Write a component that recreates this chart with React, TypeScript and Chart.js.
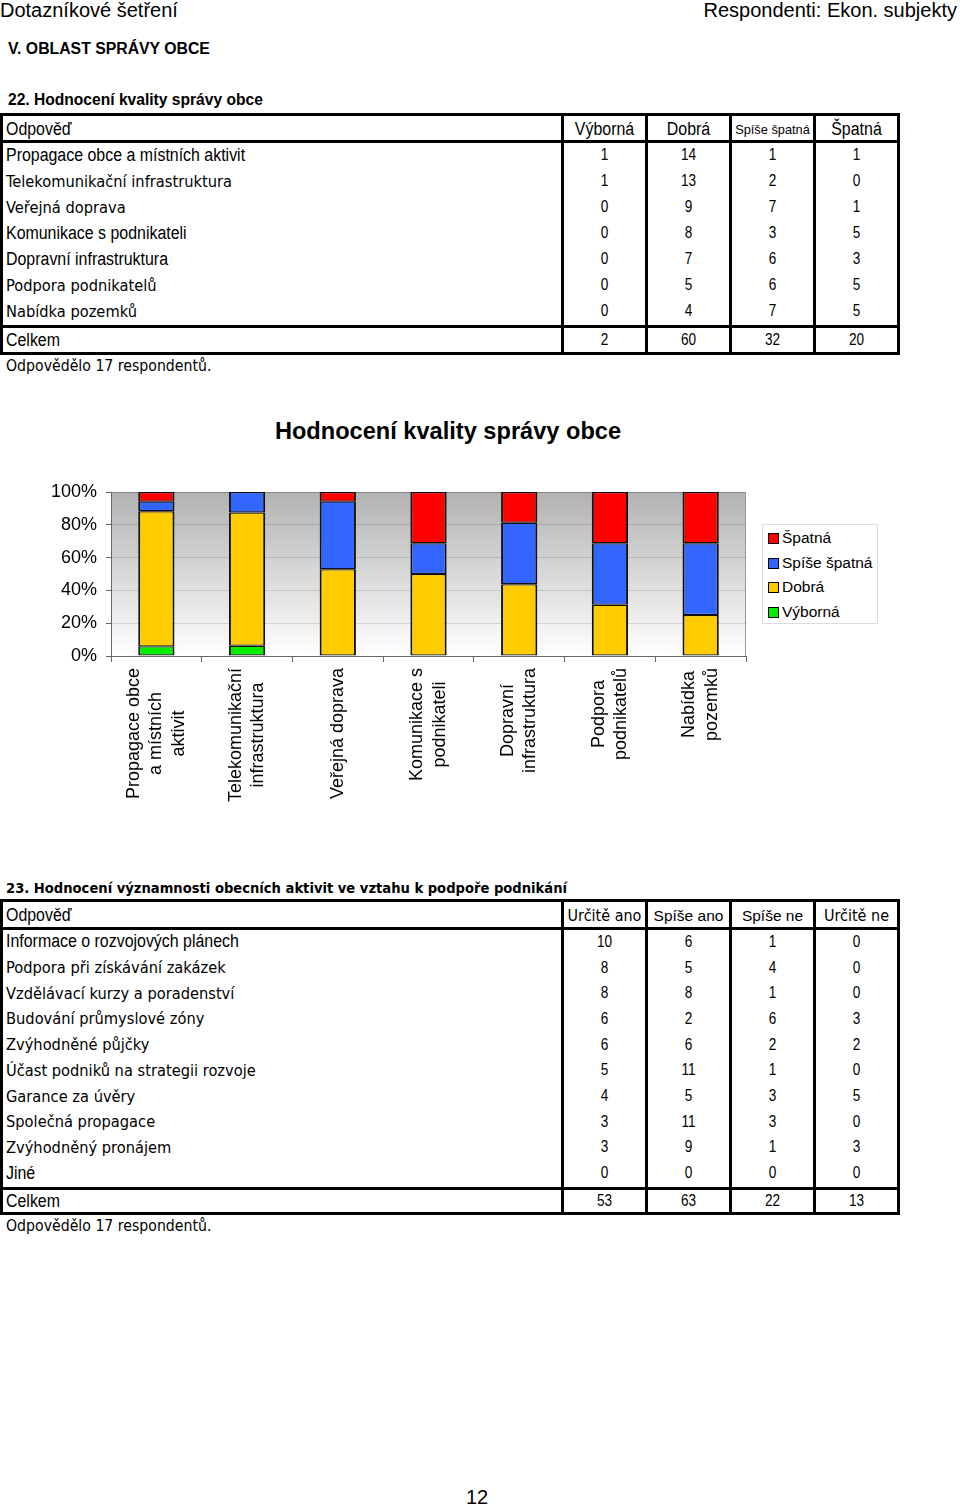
import React, { useEffect, useRef } from 'react';
import { Chart, registerables } from 'chart.js';

Chart.register(...registerables);

// ---------- DATA ----------
const chartTitle = 'Hodnocení kvality správy obce';
const categoryLines = [
  ['Propagace obce', 'a místních', 'aktivit'],
  ['Telekomunikační', 'infrastruktura'],
  ['Veřejná doprava'],
  ['Komunikace s', 'podnikateli'],
  ['Dopravní', 'infrastruktura'],
  ['Podpora', 'podnikatelů'],
  ['Nabídka', 'pozemků'],
];
const table1Rows = [
  'Propagace obce a místních aktivit',
  'Telekomunikační infrastruktura',
  'Veřejná doprava',
  'Komunikace s podnikateli',
  'Dopravní infrastruktura',
  'Podpora podnikatelů',
  'Nabídka pozemků',
];
const table1Heads = ['Výborná', 'Dobrá', 'Spíše špatná', 'Špatná'];
const vyborna = [1, 1, 0, 0, 0, 0, 0];
const dobra = [14, 13, 9, 8, 7, 5, 4];
const spiseSpatna = [1, 2, 7, 3, 6, 6, 7];
const spatna = [1, 0, 1, 5, 3, 5, 5];
const yTickValues = [0, 20, 40, 60, 80, 100];

const table2Rows = [
  'Informace o rozvojových plánech',
  'Podpora při získávání zakázek',
  'Vzdělávací kurzy a poradenství',
  'Budování průmyslové zóny',
  'Zvýhodněné půjčky',
  'Účast podniků na strategii rozvoje',
  'Garance za úvěry',
  'Společná propagace',
  'Zvýhodněný pronájem',
  'Jiné',
];
const table2Heads = ['Určitě ano', 'Spíše ano', 'Spíše ne', 'Určitě ne'];
const urciteAno = [10, 8, 8, 6, 6, 5, 4, 3, 3, 0];
const spiseAno = [6, 5, 8, 2, 6, 11, 5, 11, 9, 0];
const spiseNe = [1, 4, 1, 6, 2, 1, 3, 3, 1, 0];
const urciteNe = [0, 0, 0, 3, 2, 0, 5, 0, 3, 0];

// ---------- STYLE ----------
const ARIAL = '"Liberation Sans", Arial, sans-serif';
const COMIC = '"DejaVu Sans Condensed", "DejaVu Sans", sans-serif';

type FontSpec = { family: string; size: number; sx?: number };
const NARROW_TXT: FontSpec = { family: ARIAL, size: 18, sx: 0.885 };
const NUM: FontSpec = { family: ARIAL, size: 17, sx: 0.8 };
const COMIC_ROW: FontSpec = { family: COMIC, size: 16.3 };

const seriesColors = {
  vyborna: '#00ee00',
  dobra: '#ffcc00',
  spiseSpatna: '#3366ff',
  spatna: '#ff0000',
};

const sum = (a: number[]) => a.reduce((s, v) => s + v, 0);

function Txt(props: {
  x: number; cy: number; f: FontSpec; bold?: boolean;
  align?: 'left' | 'center' | 'right'; w?: number; children: React.ReactNode;
}) {
  const { x, cy, f, bold, align = 'left', w = 0, children } = props;
  const lh = Math.round(f.size * 1.3);
  const style: React.CSSProperties = {
    position: 'absolute', top: cy - lh / 2, lineHeight: lh + 'px', fontSize: f.size,
    fontFamily: f.family, fontWeight: bold ? 'bold' : 'normal', whiteSpace: 'nowrap', color: '#000',
  };
  if (align === 'left') style.left = x;
  else if (align === 'center') { style.left = x; style.width = w; style.textAlign = 'center'; }
  else { style.right = x; }
  if (f.sx && f.sx !== 1) {
    style.transform = `scaleX(${f.sx})`;
    style.transformOrigin = align === 'left' ? 'left center' : align === 'center' ? 'center center' : 'right center';
  }
  return <div style={style}>{children}</div>;
}

function Box(props: { x: number; y: number; w: number; h: number }) {
  return <div style={{ position: 'absolute', left: props.x, top: props.y, width: props.w, height: props.h, background: '#000' }} />;
}

const colX = [0, 561, 645, 729, 813, 897];

function DataTable(props: {
  top: number; headBottom: number; bodyBottom: number; bottom: number;
  heads: string[]; headFonts: FontSpec[];
  rows: string[]; rowFonts: string[]; cols: number[][];
}) {
  const { top, headBottom, bodyBottom, bottom, heads, headFonts, rows, rowFonts, cols } = props;
  const els: React.ReactNode[] = [];
  const th = 3;
  [top, headBottom, bodyBottom, bottom].forEach((y, i) => els.push(<Box key={'h' + i} x={0} y={y} w={900} h={th} />));
  colX.forEach((x, i) => els.push(<Box key={'v' + i} x={x} y={top} w={3} h={bottom + th - top} />));
  const headCy = (top + th + headBottom) / 2 + 1;
  els.push(<Txt key="hd0" x={6} cy={headCy} f={NARROW_TXT}>Odpověď</Txt>);
  heads.forEach((h, i) => {
    const l = colX[i + 1] + 3; const w = colX[i + 2] - l;
    els.push(<Txt key={'hd' + (i + 1)} x={l} w={w} align="center" cy={headCy} f={headFonts[i]}>{h}</Txt>);
  });
  const rh = (bodyBottom - headBottom - th) / rows.length;
  rows.forEach((r, ri) => {
    const cy = headBottom + th + rh * (ri + 0.5) - 1;
    const isComic = rowFonts[ri] === 'c';
    els.push(<Txt key={'r' + ri} x={6} cy={cy} f={isComic ? COMIC_ROW : NARROW_TXT}>{r}</Txt>);
    cols.forEach((c, ci) => {
      const l = colX[ci + 1] + 3; const w = colX[ci + 2] - l;
      els.push(<Txt key={'c' + ri + '_' + ci} x={l} w={w} align="center" cy={cy} f={NUM}>{c[ri]}</Txt>);
    });
  });
  const tcy = (bodyBottom + th + bottom) / 2;
  els.push(<Txt key="tot" x={6} cy={tcy} f={NARROW_TXT}>Celkem</Txt>);
  cols.forEach((c, ci) => {
    const l = colX[ci + 1] + 3; const w = colX[ci + 2] - l;
    els.push(<Txt key={'t' + ci} x={l} w={w} align="center" cy={tcy} f={NUM}>{sum(c)}</Txt>);
  });
  return <>{els}</>;
}

function StackedChart() {
  const ref = useRef<HTMLCanvasElement>(null);
  useEffect(() => {
    const totals = dobra.map((_, i) => vyborna[i] + dobra[i] + spiseSpatna[i] + spatna[i]);
    const pct = (arr: number[]) => arr.map((v, i) => (v / totals[i]) * 100);
    const bgPlugin = {
      id: 'plotBg',
      beforeDraw(chart: any) {
        const { ctx, chartArea: a } = chart;
        const g = ctx.createLinearGradient(0, a.top, 0, a.bottom);
        g.addColorStop(0, '#b2b2b2');
        g.addColorStop(1, '#ffffff');
        ctx.save();
        ctx.fillStyle = g;
        ctx.fillRect(a.left, a.top, a.right - a.left, a.bottom - a.top);
        ctx.strokeStyle = '#9a9a9a';
        ctx.lineWidth = 1;
        ctx.beginPath();
        ctx.moveTo(a.left, a.top + 0.5);
        ctx.lineTo(a.right - 0.5, a.top + 0.5);
        ctx.lineTo(a.right - 0.5, a.bottom);
        ctx.stroke();
        ctx.restore();
      },
    };
    const labelPlugin = {
      id: 'xLabels',
      afterDraw(chart: any) {
        const { ctx, chartArea: a } = chart;
        const xs = chart.scales.x;
        ctx.save();
        ctx.font = '18px ' + ARIAL;
        ctx.fillStyle = '#000';
        ctx.textAlign = 'center';
        ctx.textBaseline = 'middle';
        categoryLines.forEach((lines, i) => {
          const cx = xs.getPixelForValue(i);
          const maxW = Math.max(...lines.map((l) => ctx.measureText(l).width));
          const cy = a.bottom + 12 + maxW / 2;
          lines.forEach((l, j) => {
            const lx = cx + (j - (lines.length - 1) / 2) * 22.5;
            ctx.save();
            ctx.translate(lx, cy);
            ctx.rotate(-Math.PI / 2);
            ctx.fillText(l, 0, 0);
            ctx.restore();
          });
        });
        ctx.restore();
      },
    };
    const border = { top: 1.2, bottom: 1.2, left: 2, right: 2 };
    const mk = (label: string, data: number[], color: string) => ({
      label, data: pct(data), backgroundColor: color, borderColor: '#111', borderWidth: border,
      borderSkipped: false as const, barPercentage: 0.4, categoryPercentage: 1.0,
    });
    const chart = new Chart(ref.current!, {
      type: 'bar',
      data: {
        labels: categoryLines.map((l) => l.join(' ')),
        datasets: [
          mk('Výborná', vyborna, seriesColors.vyborna),
          mk('Dobrá', dobra, seriesColors.dobra),
          mk('Spíše špatná', spiseSpatna, seriesColors.spiseSpatna),
          mk('Špatná', spatna, seriesColors.spatna),
        ],
      },
      options: {
        responsive: false,
        animation: false,
        layout: { padding: { left: 0, right: 150, top: 22, bottom: 0 } },
        plugins: {
          legend: { display: false },
          tooltip: { enabled: false },
          title: { display: false },
        },
        scales: {
          x: {
            stacked: true,
            grid: { display: true, drawOnChartArea: false, offset: true, tickLength: 6, color: '#666', tickColor: '#666' },
            border: { color: '#666', width: 1 },
            ticks: { display: false },
            afterFit: (s: any) => { s.height = 184; },
          },
          y: {
            stacked: true, min: 0, max: 100,
            afterBuildTicks: (s: any) => { s.ticks = yTickValues.map((v) => ({ value: v })); },
            ticks: { callback: (v: any) => v + '%', color: '#000', font: { family: ARIAL, size: 18 }, padding: 9 },
            grid: { color: 'rgba(0,0,0,0.12)', tickLength: 5, tickColor: '#666' },
            border: { color: '#666', width: 1 },
            afterFit: (s: any) => { s.width = 111; },
          },
        },
      },
      plugins: [bgPlugin, labelPlugin],
    });
    return () => chart.destroy();
  }, []);
  return (
    <canvas ref={ref} width={896} height={370}
      style={{ position: 'absolute', left: 0, top: 470, width: 896, height: 370 }} />
  );
}

function Legend() {
  const items: [string, string][] = [
    ['Špatná', seriesColors.spatna],
    ['Spíše špatná', seriesColors.spiseSpatna],
    ['Dobrá', seriesColors.dobra],
    ['Výborná', seriesColors.vyborna],
  ];
  return (
    <div style={{ position: 'absolute', left: 762, top: 524, width: 114, height: 98, border: '1px solid #dcdcdc', background: '#fff' }}>
      {items.map(([t, c], i) => (
        <div key={t} style={{ position: 'absolute', left: 0, top: 3 + i * 24.7, height: 20, width: 114 }}>
          <div style={{ position: 'absolute', left: 5, top: 5, width: 9, height: 9, background: c, border: '1px solid #000' }} />
          <div style={{ position: 'absolute', left: 19, top: 0, lineHeight: '20px', fontSize: 15.5, fontFamily: ARIAL, whiteSpace: 'nowrap' }}>{t}</div>
        </div>
      ))}
    </div>
  );
}

export default function App() {
  return (
    <div style={{ position: 'absolute', left: 0, top: 0, width: 960, height: 1506, background: '#fff', overflow: 'hidden' }}>
      <Txt x={0} cy={10} f={{ family: ARIAL, size: 20 }}>Dotazníkové šetření</Txt>
      <Txt x={3} cy={10} f={{ family: ARIAL, size: 20 }} align="right">Respondenti: Ekon. subjekty</Txt>
      <Txt x={8} cy={48} f={{ family: ARIAL, size: 15.8 }} bold>V. OBLAST SPRÁVY OBCE</Txt>
      <Txt x={8} cy={100} f={{ family: ARIAL, size: 15.6 }} bold>22. Hodnocení kvality správy obce</Txt>

      <DataTable
        top={113} headBottom={140} bodyBottom={325} bottom={352}
        heads={table1Heads}
        headFonts={[NARROW_TXT, NARROW_TXT, { family: ARIAL, size: 12.8 }, NARROW_TXT]}
        rows={table1Rows}
        rowFonts={['n', 'c', 'c', 'n', 'n', 'c', 'c']}
        cols={[vyborna, dobra, spiseSpatna, spatna]}
      />
      <Txt x={6} cy={366} f={{ family: COMIC, size: 15.7 }}>Odpovědělo 17 respondentů.</Txt>

      <div style={{ position: 'absolute', left: 0, top: 414, width: 896, textAlign: 'center', fontFamily: ARIAL, fontWeight: 'bold', fontSize: 23.6, lineHeight: '34px', whiteSpace: 'nowrap' }}>{chartTitle}</div>
      <StackedChart />
      <Legend />

      <Txt x={6} cy={887} f={{ family: COMIC, size: 14.6 }} bold>23. Hodnocení významnosti obecních aktivit ve vztahu k podpoře podnikání</Txt>
      <DataTable
        top={899} headBottom={927} bodyBottom={1187} bottom={1212}
        heads={table2Heads}
        headFonts={[{ family: COMIC, size: 16 }, { family: ARIAL, size: 15.5 }, { family: ARIAL, size: 15.5 }, { family: COMIC, size: 16 }]}
        rows={table2Rows}
        rowFonts={['n', 'c', 'c', 'c', 'c', 'c', 'c', 'c', 'c', 'n']}
        cols={[urciteAno, spiseAno, spiseNe, urciteNe]}
      />
      <Txt x={6} cy={1226} f={{ family: COMIC, size: 15.7 }}>Odpovědělo 17 respondentů.</Txt>

      <Txt x={0} w={954} align="center" cy={1497} f={{ family: ARIAL, size: 20 }}>12</Txt>
    </div>
  );
}
